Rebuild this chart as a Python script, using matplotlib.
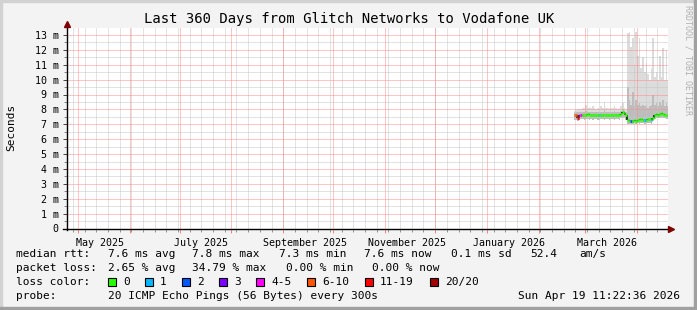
import datetime as dt
import matplotlib
matplotlib.use('Agg')
import matplotlib.pyplot as plt
import matplotlib.dates as mdates
from matplotlib.lines import Line2D
from matplotlib.patches import Rectangle
from matplotlib.collections import LineCollection
import numpy as np

# ---- data (one value per day from Feb 22 2026) ----
start = dt.datetime(2025, 4, 24, 11, 22, 36)
end = dt.datetime(2026, 4, 19, 11, 22, 36)
first_day = dt.datetime(2026, 2, 22, 12)

median_ms = [7.6, 7.6, 7.45, 7.6, 7.6, 7.6, 7.65, 7.6, 7.7, 7.65,
             7.6, 7.6, 7.65, 7.6, 7.6, 7.6, 7.6, 7.65, 7.6, 7.65,
             7.6, 7.6, 7.6, 7.6, 7.6, 7.6, 7.65, 7.65, 7.7, 7.8,
             7.75, 7.6, 7.3, 7.25, 7.25, 7.25, 7.3, 7.25, 7.3, 7.3,
             7.35, 7.3, 7.3, 7.3, 7.35, 7.35, 7.3, 7.45, 7.6, 7.7,
             7.65, 7.7, 7.75, 7.7, 7.65, 7.6, 7.6]
max_ms = [7.9, 7.95, 8.0, 8.0, 8.05, 8.1, 8.1, 8.3, 8.1, 8.15,
          8.1, 8.2, 8.1, 8.05, 8.1, 8.05, 8.2, 8.1, 8.5, 8.1,
          8.1, 8.05, 8.1, 8.1, 8.25, 8.1, 8.05, 8.1, 8.2, 8.4,
          8.1, 8.0, 13.1, 13.2, 12.2, 12.8, 11.0, 13.2, 11.6, 12.8,
          10.8, 11.5, 10.5, 11.1, 10.4, 10.0, 10.7, 12.8, 10.2, 10.5,
          10.0, 11.6, 10.2, 12.1, 10.0, 12.0, 10.0]
q3_ms = [7.75, 7.8, 7.8, 7.8, 7.8, 7.85, 7.8, 7.9, 7.85, 7.85,
         7.8, 7.85, 7.8, 7.8, 7.85, 7.8, 7.85, 7.8, 7.95, 7.8,
         7.8, 7.8, 7.85, 7.8, 7.9, 7.8, 7.8, 7.85, 7.9, 8.0,
         7.9, 7.8, 9.5, 8.6, 8.3, 9.2, 8.2, 8.6, 8.3, 8.4,
         8.2, 8.3, 8.2, 8.3, 8.1, 8.2, 8.3, 9.0, 8.3, 8.4,
         8.2, 8.5, 8.3, 8.6, 8.2, 8.4, 8.2]
min_ms = [7.3, 7.3, 7.2, 7.3, 7.35, 7.35, 7.3, 7.35, 7.35, 7.3,
          7.35, 7.3, 7.35, 7.35, 7.3, 7.3, 7.35, 7.35, 7.3, 7.35,
          7.35, 7.3, 7.35, 7.35, 7.3, 7.35, 7.35, 7.3, 7.4, 7.45,
          7.4, 7.3, 7.05, 7.0, 7.05, 7.05, 7.1, 7.05, 7.1, 7.05,
          7.1, 7.1, 7.05, 7.1, 7.1, 7.1, 7.05, 7.2, 7.35, 7.4,
          7.4, 7.4, 7.45, 7.4, 7.4, 7.35, 7.35]
loss_pings = [7, 8, 12, 5, 4, 0, 0, 0, 0, 0,
              0, 0, 0, 0, 0, 1, 0, 0, 0, 0,
              0, 0, 0, 0, 0, 0, 0, 0, 0, 0,
              0, 0, 0, 0, 2, 0, 0, 0, 0, 0,
              0, 0, 1, 0, 0, 0, 1, 0, 0, 0,
              0, 0, 0, 0, 0, 0, 0]

loss_labels = ['0', '1', '2', '3', '4-5', '6-10', '11-19', '20/20']
loss_colors = ['#26ff00', '#00b8ff', '#0059ff', '#7e00ff',
               '#ff00ff', '#ff5500', '#ff0000', '#a10000']
loss_upper = [0, 1, 2, 3, 5, 10, 19, 20]

title = 'Last 360 Days from Glitch Networks to Vodafone UK'
rtt_stats = ['7.6 ms avg', '7.8 ms max', '7.3 ms min', '7.6 ms now',
             '0.1 ms sd', '52.4', 'am/s']
loss_stats = ['2.65 % avg', '34.79 % max', '0.00 % min', '0.00 % now']
probe_text = '20 ICMP Echo Pings (56 Bytes) every 300s'
stamp = 'Sun Apr 19 11:22:36 2026'

W, H = 697, 310
MONO = 'DejaVu Sans Mono'


def fx(x):
    return x / W


def fy(y):
    return 1 - y / H


def loss_color(n):
    for up, c in zip(loss_upper, loss_colors):
        if n <= up:
            return c
    return loss_colors[-1]


fig = plt.figure(figsize=(W / 100, H / 100), dpi=100, facecolor='#f3f3f3')
ax = fig.add_axes([fx(67), fy(228.5), fx(668) - fx(67), fy(27.5) - fy(228.5)])
ax.set_facecolor('white')
for s in ax.spines.values():
    s.set_visible(False)

x0 = mdates.date2num(start)
x1 = mdates.date2num(end)
ax.set_xlim(x0, x1)
ax.set_ylim(0, 13.5)

xd = mdates.date2num([first_day + dt.timedelta(days=i) for i in range(len(median_ms))])
edges = np.r_[xd - 0.5, xd[-1] + 0.5]

# smoke
ax.stairs(max_ms, edges, baseline=np.array(min_ms), fill=True, color='#dcdcdc', zorder=2)
ax.stairs(q3_ms, edges, baseline=np.array(min_ms), fill=True, color='#bdbdbd', zorder=2)

# grid, dotted like rrdtool
grid_kw = dict(lw=0.72, ls=(0, (1, 1)), snap=True, zorder=3)
for v in np.arange(0.5, 13.5, 1.0):
    ax.axhline(v, color='#c6c6c6', **grid_kw)
mondays = []
d = dt.datetime(2025, 4, 28)
while d < end:
    mondays.append(d)
    d += dt.timedelta(days=7)
for m in mondays:
    ax.axvline(mdates.date2num(m), color='#c6c6c6', **grid_kw)
months = []
y, mo = 2025, 5
while dt.datetime(y, mo, 1) < end:
    months.append(dt.datetime(y, mo, 1))
    mo += 1
    if mo > 12:
        y, mo = y + 1, 1
for v in range(1, 14):
    ax.axhline(v, color='#ff8a8a', **grid_kw)
for m in months:
    ax.axvline(mdates.date2num(m), color='#ff8a8a', **grid_kw)

# median line coloured by loss
hseg, hcol = [], []
for i, m in enumerate(median_ms):
    hseg.append([(edges[i], m), (edges[i + 1], m)])
    hcol.append(loss_color(loss_pings[i]))
vseg = [[(edges[i + 1], median_ms[i]), (edges[i + 1], median_ms[i + 1])]
        for i in range(len(median_ms) - 1)]
ax.add_collection(LineCollection(vseg, colors='#222222', linewidths=1.3, zorder=4))
ax.add_collection(LineCollection(hseg, colors=hcol, linewidths=2.0, zorder=5))

# ticks
ax.set_yticks(range(14))
ax.set_yticklabels(['0'] + ['%d m' % i for i in range(1, 14)],
                   fontfamily=MONO, fontsize=7.2)
ax.set_yticks(np.arange(0.5, 13.5, 1.0), minor=True)
ax.tick_params(axis='y', which='major', length=3, width=0.7, color='#444444', pad=3)
ax.tick_params(axis='y', which='minor', length=2, width=0.7, color='#888888')
ax.set_xticks(mdates.date2num(months))
ax.set_xticklabels([])
ax.set_xticks(mdates.date2num(mondays), minor=True)
ax.tick_params(axis='x', which='major', length=3, width=0.7, color='#ff8080')
ax.tick_params(axis='x', which='minor', length=2, width=0.7, color='#999999')

for m in months:
    if m.month % 2 == 1:
        ax.text(mdates.date2num(m.replace(day=14)), -0.045, m.strftime('%B %Y'),
                transform=ax.get_xaxis_transform(), ha='center', va='top',
                fontfamily=MONO, fontsize=7.2)

# axes lines with arrows
tf = fig.transFigure
fig.add_artist(Line2D([fx(63), fx(670)], [fy(228.5), fy(228.5)], color='black', lw=1, transform=tf))
fig.add_artist(Line2D([fx(67), fx(67)], [fy(230), fy(26)], color='black', lw=1, transform=tf))
fig.add_artist(Line2D([fx(671)], [fy(228.5)], marker='>', ms=5, color='#7f0000', lw=0, transform=tf))
fig.add_artist(Line2D([fx(67)], [fy(24)], marker='^', ms=5, color='#7f0000', lw=0, transform=tf))

# texts
fig.text(fx(349), fy(19), title, ha='center', va='center', fontfamily=MONO, fontsize=10)
fig.text(fx(11), fy(127), 'Seconds', rotation=90, ha='center', va='center',
         fontfamily=MONO, fontsize=8)
fig.text(fx(688), fy(60), 'RRDTOOL / TOBI OETIKER', rotation=270, ha='center', va='center',
         fontfamily=MONO, fontsize=6, color='#b0b0b0')

fig.text(fx(16), fy(254), 'median rtt:', va='center', fontfamily=MONO, fontsize=8)
for s, xp in zip(rtt_stats, [108, 192, 279, 364, 451, 530, 579]):
    fig.text(fx(xp), fy(254), s, va='center', fontfamily=MONO, fontsize=8)
fig.text(fx(16), fy(268), 'packet loss:', va='center', fontfamily=MONO, fontsize=8)
for s, xp in zip(loss_stats, [108, 192, 286, 372]):
    fig.text(fx(xp), fy(268), s, va='center', fontfamily=MONO, fontsize=8)
fig.text(fx(16), fy(282), 'loss color:', va='center', fontfamily=MONO, fontsize=8)
for lab, col, xp in zip(loss_labels, loss_colors, [108, 145, 182, 219, 256, 307, 365, 430]):
    fig.add_artist(Rectangle((fx(xp), fy(286)), 8 / W, 8 / H, facecolor=col,
                             edgecolor='black', lw=0.8, transform=tf))
    fig.text(fx(xp + 15), fy(282), lab, va='center', fontfamily=MONO, fontsize=8)
fig.text(fx(16), fy(296), 'probe:', va='center', fontfamily=MONO, fontsize=8)
fig.text(fx(108), fy(296), probe_text, va='center', fontfamily=MONO, fontsize=8)
fig.text(fx(680), fy(296), stamp, ha='right', va='center', fontfamily=MONO, fontsize=8)

# frame
fig.add_artist(Rectangle((0, fy(2)), 1, 2 / H, color='#d2d2d2', transform=tf))
fig.add_artist(Rectangle((0, 0), 2 / W, 1, color='#d2d2d2', transform=tf))
fig.add_artist(Rectangle((0, 0), 1, 3 / H, color='#a0a0a0', transform=tf))
fig.add_artist(Rectangle((fx(694), 0), 3 / W, 1, color='#a0a0a0', transform=tf))

fig.savefig('out.png', dpi=100, facecolor=fig.get_facecolor())
